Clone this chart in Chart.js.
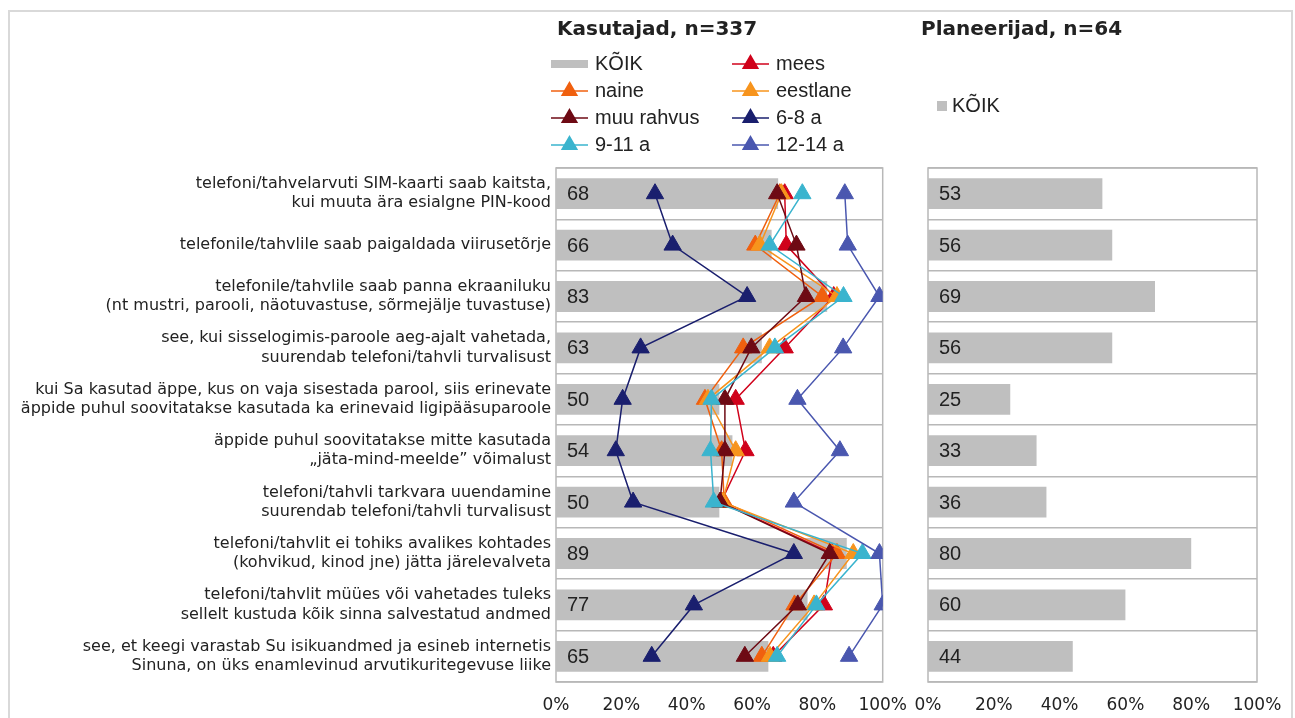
<!DOCTYPE html>
<html>
<head>
<meta charset="utf-8">
<title>Kasutajad ja planeerijad</title>
<script src="https://cdn.jsdelivr.net/npm/chart.js@4.4.0/dist/chart.umd.min.js"></script>
<style>
  body { margin: 0; background: #fff; }
  #wrap { position: relative; width: 1295px; height: 718px; overflow: hidden; }
  #frame { position: absolute; left: 8px; top: 10px; width: 1285px; height: 730px; border: 2px solid #d9d9d9; box-sizing: border-box; }
  #leftChart { position: absolute; left: 0; top: 0; }
  #rightChart { position: absolute; left: 900px; top: 0; }
</style>
</head>
<body>
<div id="wrap">
  <div id="frame"></div>
  <canvas id="leftChart" width="920" height="718"></canvas>
  <canvas id="rightChart" width="395" height="718"></canvas>
</div>
<script>
// === Data ===
const questions = [
  ['telefoni/tahvelarvuti SIM-kaarti saab kaitsta,', 'kui muuta ära esialgne PIN-kood'],
  'telefonile/tahvlile saab paigaldada viirusetõrje',
  ['telefonile/tahvlile saab panna ekraaniluku', '(nt mustri, parooli, näotuvastuse, sõrmejälje tuvastuse)'],
  ['see, kui sisselogimis-paroole aeg-ajalt vahetada,', 'suurendab telefoni/tahvli turvalisust'],
  ['kui Sa kasutad äppe, kus on vaja sisestada parool, siis erinevate', 'äppide puhul soovitatakse kasutada ka erinevaid ligipääsuparoole'],
  ['äppide puhul soovitatakse mitte kasutada', '„jäta-mind-meelde” võimalust'],
  ['telefoni/tahvli tarkvara uuendamine', 'suurendab telefoni/tahvli turvalisust'],
  ['telefoni/tahvlit ei tohiks avalikes kohtades', '(kohvikud, kinod jne) jätta järelevalveta'],
  ['telefoni/tahvlit müües või vahetades tuleks', 'sellelt kustuda kõik sinna salvestatud andmed'],
  ['see, et keegi varastab Su isikuandmed ja esineb internetis', 'Sinuna, on üks enamlevinud arvutikuritegevuse liike']
];
const kasutajadKoik = [68, 66, 83, 63, 50, 54, 50, 89, 77, 65];
const planeerijadKoik = [53, 56, 69, 56, 25, 33, 36, 80, 60, 44];

const mees = [70, 70.5, 85, 70, 55, 58, 50.5, 84.5, 82, 66.5];
const naine = [68.5, 61, 81.5, 57.3, 45.6, 50.7, 51.5, 86, 73, 63];
const eestlane = [69, 62.4, 86, 65.4, 46.5, 55, 51, 91, 79, 65.5];
const muuRahvus = [67.7, 73.6, 76.5, 59.8, 51.7, 51.7, 50.2, 83.8, 74, 57.8];
const vanus6_8 = [30.3, 35.7, 58.5, 25.9, 20.4, 18.3, 23.6, 72.8, 42.2, 29.3];
const vanus9_11 = [75.4, 65.4, 88, 67, 47.6, 47.3, 48.3, 93.8, 79.7, 67.7];
const vanus12_14 = [88.4, 89.3, 99, 87.9, 73.9, 86.9, 72.8, 99, 100, 89.7];

const groupNames = ['mees', 'naine', 'eestlane', 'muu rahvus', '6-8 a', '9-11 a', '12-14 a'];
const groupValues = [mees, naine, eestlane, muuRahvus, vanus6_8, vanus9_11, vanus12_14];
const xTicks = [0, 20, 40, 60, 80, 100];

// === Styles ===
const groupColors = ['#D0021B', '#F0600F', '#F7941D', '#6E0A14', '#1A1F6E', '#3AB4CE', '#4A57AF'];
const BAR_GRAY = '#BFBFBF';
const GRID = '#B8B8B8';
const TEXT = '#222222';
const LABEL_FONT = '"DejaVu Sans", Verdana, sans-serif';
const ARIAL = '"Liberation Sans", Arial, sans-serif';
const TICK_FONT = '"DejaVu Sans", Verdana, sans-serif';

// === Plugins ===
const framePlugin = {
  id: 'frame',
  beforeDatasetsDraw(chart) {
    const { ctx, chartArea: a } = chart;
    ctx.save();
    ctx.strokeStyle = GRID;
    ctx.lineWidth = 1.5;
    ctx.strokeRect(a.left, a.top, a.right - a.left, a.bottom - a.top);
    ctx.restore();
  }
};

const valueLabels = {
  id: 'valueLabels',
  afterDatasetsDraw(chart) {
    const { ctx, chartArea } = chart;
    const meta = chart.getDatasetMeta(0);
    const values = chart.data.datasets[0].data;
    ctx.save();
    ctx.font = '20px ' + ARIAL;
    ctx.fillStyle = TEXT;
    ctx.textAlign = 'left';
    ctx.textBaseline = 'middle';
    meta.data.forEach((bar, i) => {
      ctx.fillText(values[i], chartArea.left + 11, bar.y + 1);
    });
    ctx.restore();
  }
};

// title + legend drawn in the top padding
const header = {
  id: 'header',
  afterDraw(chart, args, opts) {
    const ctx = chart.ctx;
    ctx.save();
    ctx.font = 'bold 20px ' + TICK_FONT;
    ctx.fillStyle = TEXT;
    ctx.textBaseline = 'middle';
    ctx.textAlign = 'left';
    ctx.fillText(opts.title, opts.titleX, 30);

    ctx.font = '20px ' + ARIAL;
    chart.data.datasets.forEach((ds, i) => {
      const col = i % opts.cols.length;
      const row = Math.floor(i / opts.cols.length);
      const x = opts.cols[col];
      const y = opts.rowY + row * opts.rowGap;
      if (ds.type === 'line') {
        ctx.strokeStyle = ds.borderColor;
        ctx.fillStyle = ds.borderColor;
        ctx.lineWidth = 1.5;
        ctx.beginPath();
        ctx.moveTo(x, y);
        ctx.lineTo(x + opts.symbolW, y);
        ctx.stroke();
        Chart.helpers.drawPoint(ctx, { pointStyle: 'triangle', radius: 8.5, borderWidth: 1, rotation: 0 }, x + opts.symbolW / 2, y);
      } else if (opts.square) {
        ctx.fillStyle = ds.backgroundColor;
        ctx.fillRect(x, y - 5, 10, 10);
      } else {
        ctx.fillStyle = ds.backgroundColor;
        ctx.fillRect(x, y - 4, opts.symbolW, 8);
      }
      ctx.fillStyle = TEXT;
      ctx.fillText(ds.label, x + opts.textGap, y);
    });
    ctx.restore();
  }
};

function xScale() {
  return {
    min: 0,
    max: 100,
    afterBuildTicks: s => { s.ticks = xTicks.map(v => ({ value: v })); },
    afterFit: s => { s.height = 36; },
    ticks: { callback: v => v + '%', font: { family: TICK_FONT, size: 17 }, color: TEXT, padding: 13, maxRotation: 0 },
    grid: { display: false, drawTicks: false },
    border: { display: false }
  };
}

// === Kasutajad ===
new Chart(document.getElementById('leftChart'), {
  type: 'bar',
  data: {
    labels: questions,
    datasets: [
      { label: 'KÕIK', data: kasutajadKoik, backgroundColor: BAR_GRAY, order: 20, barPercentage: 0.6, categoryPercentage: 1 }
    ].concat(groupNames.map((name, i) => ({
      type: 'line',
      label: name,
      data: groupValues[i],
      indexAxis: 'y',
      borderColor: groupColors[i],
      backgroundColor: groupColors[i],
      borderWidth: 1.5,
      pointStyle: 'triangle',
      pointRadius: 10,
      pointBorderWidth: 1,
      tension: 0,
      order: groupNames.length - i
    })))
  },
  options: {
    indexAxis: 'y',
    responsive: false,
    animation: false,
    layout: { padding: { top: 168, right: 0, bottom: 0, left: 0 } },
    plugins: {
      legend: { display: false },
      tooltip: { enabled: false },
      header: { title: 'Kasutajad, n=337', titleX: 557, cols: [551, 732], rowY: 64, rowGap: 27, symbolW: 37, textGap: 44 }
    },
    scales: {
      x: xScale(),
      y: {
        ticks: { autoSkip: false, font: { family: LABEL_FONT, size: 16, lineHeight: 1.2 }, color: TEXT, padding: 5 },
        grid: { color: GRID, lineWidth: 1.5, drawTicks: false, offset: true },
        border: { display: false },
        afterFit: s => { s.width = 556; }
      }
    }
  },
  plugins: [framePlugin, valueLabels, header]
});

// === Planeerijad ===
new Chart(document.getElementById('rightChart'), {
  type: 'bar',
  data: {
    labels: questions,
    datasets: [
      { label: 'KÕIK', data: planeerijadKoik, backgroundColor: BAR_GRAY, barPercentage: 0.6, categoryPercentage: 1 }
    ]
  },
  options: {
    indexAxis: 'y',
    responsive: false,
    animation: false,
    layout: { padding: { top: 168, right: 38, bottom: 0, left: 28 } },
    plugins: {
      legend: { display: false },
      tooltip: { enabled: false },
      header: { title: 'Planeerijad, n=64', titleX: 21, cols: [37], rowY: 106, rowGap: 27, symbolW: 10, textGap: 15, square: true }
    },
    scales: {
      x: xScale(),
      y: {
        ticks: { display: false },
        grid: { color: GRID, lineWidth: 1.5, drawTicks: false, offset: true },
        border: { display: false },
        afterFit: s => { s.width = 0; }
      }
    }
  },
  plugins: [framePlugin, valueLabels, header]
});
</script>
</body>
</html>
